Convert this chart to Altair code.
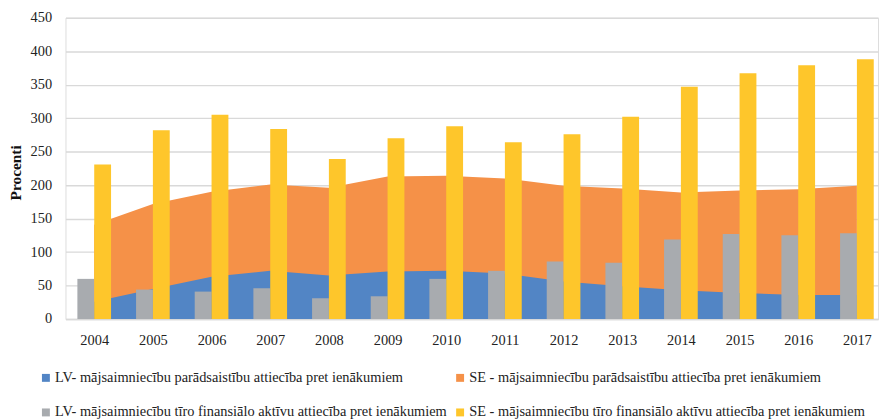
import altair as alt
import pandas as pd

years = list(range(2004, 2018))
lv_debt = [26, 45, 63, 72, 65, 71, 72, 68, 56, 49, 43, 39, 36, 36]
se_debt = [141, 172, 190, 201, 196, 213, 214, 210, 199, 195, 189, 192, 194, 199]
lv_assets = [60, 44, 41, 46, 31, 34, 60, 72, 86, 84, 119, 127, 125, 128]
se_assets = [231, 282, 305, 284, 239, 270, 288, 264, 276, 302, 347, 367, 379, 388]

names = [
    "LV- mājsaimniecību parādsaistību attiecība pret ienākumiem",
    "SE - mājsaimniecību parādsaistību attiecība pret ienākumiem",
    "LV- mājsaimniecību tīro finansiālo aktīvu attiecība pret ienākumiem",
    "SE - mājsaimniecību tīro finansiālo aktīvu attiecība pret ienākumiem",
]
colors = ["#5285C5", "#F59148", "#A8ABAF", "#FEC62B"]
y_ticks = list(range(0, 451, 50))

FONT = "Liberation Serif"
FS = 14.5
BW = 0.287  # bar width in year units

rows = []
for i, y in enumerate(years):
    rows.append({"year": y, "series": names[0], "value": lv_debt[i], "side": 0})
    rows.append({"year": y, "series": names[1], "value": se_debt[i], "side": 0})
    rows.append({"year": y, "series": names[2], "value": lv_assets[i], "side": -1})
    rows.append({"year": y, "series": names[3], "value": se_assets[i], "side": 0})
df = pd.DataFrame(rows)

# legend lays entries out column by column: col 1 = LV series, col 2 = SE series
legend_order = [names[0], names[2], names[1], names[3]]
legend_colors = [colors[0], colors[2], colors[1], colors[3]]

color = alt.Color(
    "series:N",
    scale=alt.Scale(domain=legend_order, range=legend_colors),
    legend=alt.Legend(
        title=None,
        orient="none",
        legendX=-27,
        legendY=356,
        columns=2,
        columnPadding=5,
        rowPadding=20,
        symbolType="square",
        symbolSize=64,
        symbolStrokeWidth=0,
        labelFontSize=FS,
        labelFont=FONT,
        labelColor="#222222",
        labelOffset=2,
        labelLimit=0,
    ),
)

xscale = alt.Scale(domain=[2003.51, 2017.36], nice=False, zero=False)
yscale = alt.Scale(domain=[0, 450], nice=False)

xaxis = alt.Axis(
    values=years, format="d", grid=False, ticks=False, domain=True,
    domainColor="#d9d9d9", domainWidth=1.5, labelFontSize=FS, labelFont=FONT,
    labelColor="#222222", labelPadding=15, title=None, labelFlush=False,
)
yaxis = alt.Axis(
    values=y_ticks, grid=True, gridColor="#d9d9d9", gridWidth=1.4, domain=False,
    ticks=False, labelFontSize=FS, labelFont=FONT, labelColor="#222222",
    labelPadding=14, labelOverlap=False, title="Procenti", titleFont=FONT,
    titleFontSize=15.5, titleFontWeight="bold", titleColor="#111111",
    titleX=-45.5, titleY=156, titleAngle=270, titleAlign="center",
    titleBaseline="alphabetic",
)

base = alt.Chart(df)

area_se = base.transform_filter(alt.datum.series == names[1]).mark_area(
    opacity=1, interpolate="linear"
).encode(
    x=alt.X("year:Q", scale=xscale, axis=xaxis),
    y=alt.Y("value:Q", scale=yscale, axis=yaxis, stack=None),
    color=color,
)
area_lv = base.transform_filter(alt.datum.series == names[0]).mark_area(
    opacity=1, interpolate="linear"
).encode(
    x=alt.X("year:Q", scale=xscale, axis=xaxis),
    y=alt.Y("value:Q", scale=yscale, axis=yaxis, stack=None),
    color=color,
)
bars = base.transform_filter(
    (alt.datum.series == names[2]) | (alt.datum.series == names[3])
).transform_calculate(
    x0=f"datum.year + datum.side * {BW}",
    x1=f"datum.year + datum.side * {BW} + {BW}",
).mark_bar(opacity=1).encode(
    x=alt.X("x0:Q", scale=xscale, axis=xaxis),
    x2="x1:Q",
    y=alt.Y("value:Q", scale=yscale, axis=yaxis, stack=None),
    y2=alt.datum(0),
    color=color,
)

chart = alt.layer(area_se, area_lv, bars).properties(
    width=820,
    height=304,
    autosize=alt.AutoSizeParams(type="none"),
    padding={"left": 58, "top": 8, "right": 3, "bottom": 100},
).configure_view(stroke=None).configure(font=FONT, background="white")

chart.save("out.html", embed_options={"renderer": "svg", "actions": False})
